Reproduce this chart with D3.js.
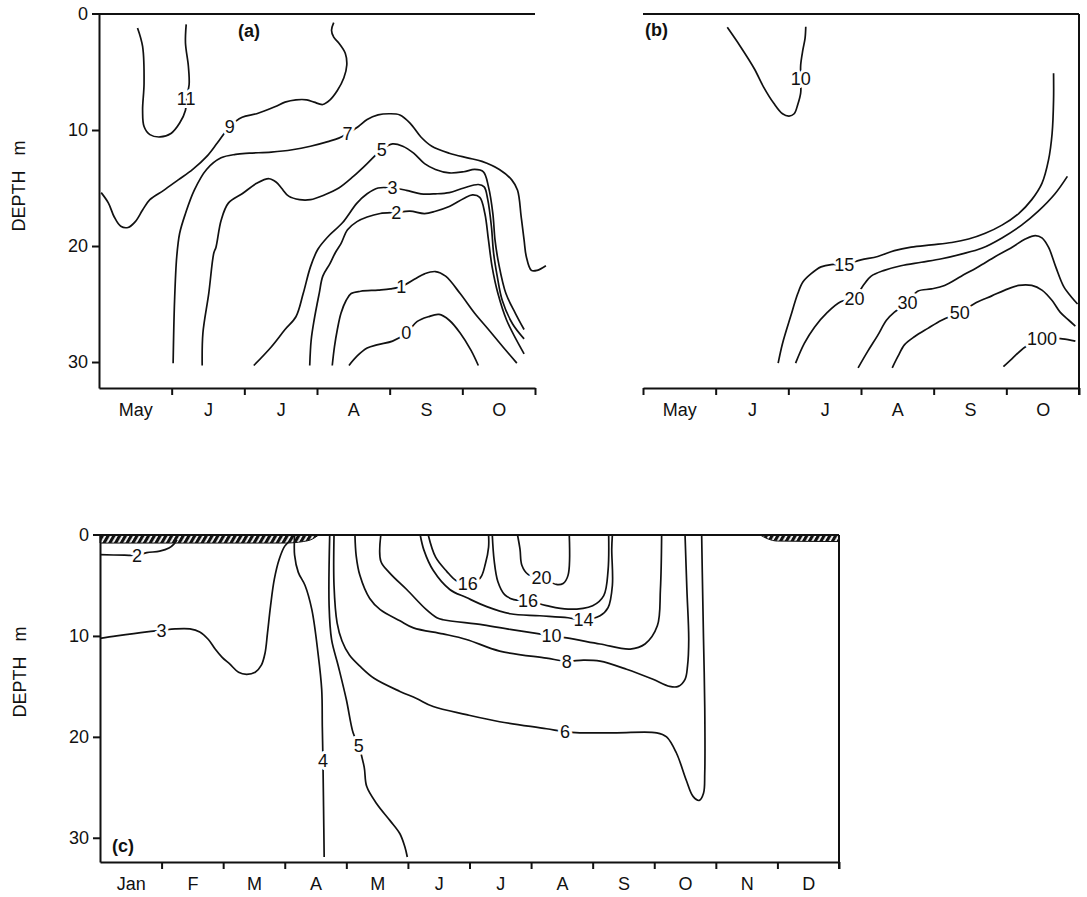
<!DOCTYPE html>
<html>
<head>
<meta charset="utf-8">
<script src="https://cdn.jsdelivr.net/npm/d3@7"></script>
<style>
  body { margin: 0; background: #fff; }
  text { font-family: "Liberation Sans", Arial, Helvetica, sans-serif; font-size: 18px; fill: #111; }
  .axis path, .axis line, .frame { stroke: #111; stroke-width: 2; fill: none; }
  .axis text { font-size: 18px; }
  .contour { fill: none; stroke: #111; stroke-width: 1.7; }
  .clabel { paint-order: stroke; stroke: #fff; stroke-width: 6px; stroke-linejoin: round; }
  .plabel { font-weight: bold; }
</style>
</head>
<body>
<svg id="chart" width="1087" height="897"></svg>
<script>
const monthsAB = ['May', 'J', 'J', 'A', 'S', 'O'];
const monthsC = ['Jan', 'F', 'M', 'A', 'M', 'J', 'J', 'A', 'S', 'O', 'N', 'D'];
const depthTicks = [0, 10, 20, 30];

// points are [months from left edge, depth m]; "at" is where the label sits on the line
const contoursA = [
  { v: '11', at: [1.20, 7.3], pts: [[0.53, 1.2], [0.60, 2.8], [0.62, 6.0], [0.60, 8.3], [0.62, 9.7], [0.70, 10.4], [0.84, 10.6], [0.99, 10.3], [1.11, 9.4], [1.19, 8.3], [1.20, 7.3], [1.24, 6.1], [1.23, 4.5], [1.19, 2.5], [1.20, 0.9]] },
  { v: '9', at: [1.80, 9.7], pts: [[0.03, 15.4], [0.13, 16.3], [0.21, 17.5], [0.30, 18.3], [0.40, 18.4], [0.50, 17.9], [0.60, 16.9], [0.70, 16.0], [0.89, 15.2], [1.09, 14.3], [1.29, 13.4], [1.48, 12.3], [1.63, 11.1], [1.80, 9.7], [1.97, 8.9], [2.17, 8.6], [2.42, 8.0], [2.56, 7.6], [2.71, 7.4], [2.86, 7.4], [2.96, 7.6], [3.08, 7.8], [3.18, 7.4], [3.28, 6.6], [3.37, 5.5], [3.41, 4.4], [3.39, 3.4], [3.30, 2.5], [3.23, 2.0], [3.20, 1.4], [3.23, 0.75]] },
  { v: '7', at: [3.42, 10.3], pts: [[1.02, 30.1], [1.04, 24.7], [1.07, 20.9], [1.11, 18.9], [1.19, 17.2], [1.31, 15.2], [1.48, 13.4], [1.68, 12.4], [1.88, 12.1], [2.07, 12.0], [2.37, 11.9], [2.66, 11.7], [2.91, 11.4], [3.15, 11.0], [3.30, 10.7], [3.42, 10.3], [3.57, 9.7], [3.69, 9.1], [3.84, 8.7], [3.99, 8.6], [4.14, 8.7], [4.28, 9.4], [4.43, 10.6], [4.58, 11.4], [4.82, 12.0], [5.07, 12.4], [5.27, 12.7], [5.51, 13.4], [5.68, 14.3], [5.76, 15.2], [5.81, 17.5], [5.85, 19.5], [5.88, 20.9], [5.95, 22.1], [6.03, 22.1], [6.15, 21.7]] },
  { v: '5', at: [3.89, 11.7], pts: [[1.42, 30.3], [1.43, 27.5], [1.51, 24.1], [1.58, 20.6], [1.61, 20.1], [1.68, 17.8], [1.78, 16.3], [1.97, 15.5], [2.17, 14.6], [2.34, 14.2], [2.44, 14.5], [2.51, 15.0], [2.61, 15.7], [2.76, 16.0], [2.91, 16.0], [3.10, 15.6], [3.30, 15.0], [3.50, 14.0], [3.69, 12.9], [3.89, 11.7], [4.04, 11.2], [4.18, 11.4], [4.33, 12.0], [4.48, 12.9], [4.63, 13.4], [4.82, 13.7], [5.02, 13.6], [5.17, 13.4], [5.29, 13.6], [5.36, 14.9], [5.42, 17.2], [5.45, 19.5], [5.50, 21.5], [5.60, 24.1], [5.73, 25.8], [5.85, 27.2]] },
  { v: '3', at: [4.04, 15.0], pts: [[2.13, 30.3], [2.37, 28.7], [2.56, 27.2], [2.71, 26.1], [2.81, 24.1], [2.91, 21.8], [3.01, 20.3], [3.15, 19.2], [3.35, 18.0], [3.55, 16.3], [3.69, 15.5], [3.84, 15.0], [4.04, 15.0], [4.23, 15.2], [4.43, 15.5], [4.63, 15.5], [4.82, 15.4], [5.02, 15.0], [5.22, 14.7], [5.30, 14.9], [5.35, 16.0], [5.40, 18.3], [5.43, 20.6], [5.48, 22.6], [5.55, 24.7], [5.69, 26.7], [5.85, 28.0]] },
  { v: '2', at: [4.09, 17.1], pts: [[2.90, 30.3], [2.92, 28.1], [2.96, 26.4], [3.03, 24.1], [3.08, 22.6], [3.18, 21.5], [3.25, 20.6], [3.33, 19.8], [3.42, 18.6], [3.55, 17.9], [3.69, 17.5], [3.87, 17.2], [4.09, 17.1], [4.28, 17.0], [4.48, 17.2], [4.63, 17.0], [4.82, 16.6], [5.02, 15.9], [5.14, 15.6], [5.24, 15.8], [5.31, 17.2], [5.36, 19.5], [5.41, 21.8], [5.49, 24.1], [5.61, 26.4], [5.85, 29.3]] },
  { v: '1', at: [4.16, 23.5], pts: [[3.21, 30.3], [3.24, 28.7], [3.28, 27.2], [3.33, 25.8], [3.40, 24.7], [3.47, 24.1], [3.60, 23.9], [3.84, 23.8], [4.01, 23.7], [4.16, 23.5], [4.36, 22.8], [4.48, 22.4], [4.63, 22.2], [4.77, 22.6], [4.97, 24.1], [5.17, 25.8], [5.36, 27.2], [5.56, 28.7], [5.75, 30.1]] },
  { v: '0', at: [4.23, 27.5], pts: [[3.44, 30.3], [3.55, 29.5], [3.69, 28.8], [3.84, 28.5], [4.04, 28.2], [4.23, 27.5], [4.38, 26.5], [4.53, 26.1], [4.68, 25.9], [4.82, 26.4], [4.97, 27.5], [5.12, 29.0], [5.22, 30.3]] }
];

const contoursB = [
  { v: '10', at: [2.17, 5.6], pts: [[1.16, 1.15], [1.34, 2.8], [1.53, 4.7], [1.66, 6.3], [1.80, 7.7], [1.92, 8.6], [2.01, 8.8], [2.08, 8.6], [2.13, 7.8], [2.17, 6.8], [2.17, 5.6], [2.17, 4.4], [2.20, 3.1], [2.23, 2.1], [2.24, 1.1]] },
  { v: '15', at: [2.77, 21.6], pts: [[1.86, 30.1], [1.92, 28.4], [2.03, 26.1], [2.13, 24.1], [2.20, 23.1], [2.31, 22.4], [2.45, 21.8], [2.59, 21.6], [2.77, 21.6], [3.00, 21.2], [3.23, 20.9], [3.46, 20.4], [3.69, 20.1], [3.97, 19.9], [4.25, 19.7], [4.48, 19.4], [4.71, 18.9], [4.94, 18.2], [5.17, 17.2], [5.35, 16.0], [5.49, 14.6], [5.58, 12.6], [5.63, 10.3], [5.65, 7.4], [5.65, 5.1]] },
  { v: '20', at: [2.91, 24.5], pts: [[2.10, 30.1], [2.22, 28.4], [2.36, 27.0], [2.54, 25.7], [2.72, 24.8], [2.91, 24.5], [3.03, 23.4], [3.14, 22.6], [3.32, 22.1], [3.55, 21.7], [3.83, 21.4], [4.11, 21.1], [4.38, 20.7], [4.66, 20.2], [4.94, 19.3], [5.21, 18.2], [5.44, 17.0], [5.67, 15.5], [5.84, 14.0]] },
  { v: '30', at: [3.64, 24.9], pts: [[2.96, 30.5], [3.09, 29.1], [3.23, 27.7], [3.35, 26.4], [3.46, 25.7], [3.64, 24.9], [3.78, 23.9], [3.97, 23.7], [4.15, 23.4], [4.38, 22.6], [4.61, 21.8], [4.85, 20.9], [5.08, 20.1], [5.26, 19.4], [5.40, 19.1], [5.49, 19.3], [5.58, 20.1], [5.68, 21.8], [5.79, 23.5], [5.91, 24.5], [5.98, 25.0]] },
  { v: '50', at: [4.36, 25.7], pts: [[3.43, 30.5], [3.51, 29.5], [3.60, 28.5], [3.74, 27.8], [3.92, 27.1], [4.11, 26.4], [4.36, 25.7], [4.61, 24.8], [4.80, 24.3], [4.98, 23.8], [5.17, 23.4], [5.35, 23.4], [5.49, 23.8], [5.63, 24.7], [5.74, 25.7], [5.86, 26.4], [5.95, 26.9]] },
  { v: '100', at: [5.49, 28.0], pts: [[4.96, 30.4], [5.08, 29.7], [5.26, 28.7], [5.49, 28.0], [5.77, 28.0], [5.95, 28.2]] }
];

const contoursC = [
  { v: '2', at: [0.6, 2.0], pts: [[0, 1.95], [0.4, 2.0], [0.6, 2.0], [0.76, 1.75], [0.97, 1.6], [1.12, 1.3], [1.2, 0.9], [1.25, 0.5]] },
  { v: '3', at: [1.0, 9.45], pts: [[0, 10.25], [0.27, 10.0], [0.76, 9.6], [1.0, 9.45], [1.22, 9.3], [1.46, 9.3], [1.62, 9.6], [1.76, 10.35], [1.87, 11.3], [1.98, 12.1], [2.11, 12.8], [2.25, 13.6], [2.38, 13.8], [2.52, 13.6], [2.62, 12.9], [2.68, 11.7], [2.72, 9.7], [2.77, 7.0], [2.83, 4.4], [2.91, 2.4], [3.0, 1.1], [3.08, 0.6]] },
  { v: '4', at: [3.62, 22.3], pts: [[3.16, 0], [3.16, 2.0], [3.22, 3.7], [3.33, 5.0], [3.44, 7.4], [3.54, 11.7], [3.60, 15.3], [3.61, 19.0], [3.62, 22.3], [3.63, 26.9], [3.64, 31.9]] },
  { v: '5', at: [4.2, 20.9], pts: [[3.73, 0], [3.72, 7.0], [3.76, 10.35], [3.87, 13.0], [4.0, 16.3], [4.11, 19.6], [4.2, 20.9], [4.29, 23.0], [4.33, 24.9], [4.49, 26.6], [4.71, 28.3], [4.87, 29.6], [4.95, 30.9], [4.99, 31.9]] },
  { v: '6', at: [7.55, 19.5], pts: [[3.80, 0], [3.80, 5.0], [3.85, 8.7], [3.93, 10.5], [4.05, 11.9], [4.22, 13.0], [4.45, 14.2], [4.87, 15.5], [5.14, 16.2], [5.41, 17.0], [5.95, 17.8], [6.49, 18.5], [7.25, 19.2], [7.55, 19.5], [7.79, 19.6], [8.39, 19.6], [9.04, 19.6], [9.20, 20.0], [9.36, 21.6], [9.52, 24.3], [9.63, 25.9], [9.73, 26.3], [9.80, 25.6], [9.82, 23.6], [9.82, 17.0], [9.80, 10.3], [9.78, 3.7], [9.77, 0]] },
  { v: '8', at: [7.58, 12.5], pts: [[4.14, 0], [4.16, 2.06], [4.22, 4.0], [4.38, 6.3], [4.55, 7.4], [4.87, 8.5], [5.09, 9.2], [5.57, 9.8], [5.95, 10.35], [6.49, 11.5], [7.25, 12.2], [7.58, 12.5], [7.85, 12.4], [8.12, 12.5], [8.55, 13.3], [8.98, 14.3], [9.25, 15.0], [9.39, 15.0], [9.50, 14.3], [9.54, 13.0], [9.56, 10.35], [9.53, 5.4], [9.50, 0]] },
  { v: '10', at: [7.33, 10.0], pts: [[4.56, 0], [4.56, 2.6], [4.71, 3.8], [4.98, 5.4], [5.30, 7.4], [5.47, 8.2], [5.57, 8.4], [6.22, 8.9], [6.66, 9.35], [7.03, 9.7], [7.33, 10.0], [7.58, 10.2], [8.12, 10.8], [8.61, 11.3], [8.85, 10.8], [9.05, 9.0], [9.10, 5.4], [9.12, 0]] },
  { v: '14', at: [7.85, 8.4], pts: [[5.20, 0], [5.26, 1.5], [5.41, 3.5], [5.68, 5.4], [5.95, 6.2], [6.28, 7.1], [6.66, 7.8], [7.14, 8.0], [7.6, 8.2], [7.85, 8.4], [8.12, 8.0], [8.25, 7.2], [8.32, 5.0], [8.31, 1.4], [8.32, 0]] },
  { v: '16', at: [5.97, 4.8], pts: [[5.33, 0], [5.45, 2.2], [5.63, 3.6], [5.78, 4.5], [5.97, 4.8], [6.17, 4.3], [6.26, 2.8], [6.31, 1.2], [6.31, 0]] },
  { v: '16', at: [6.95, 6.5], pts: [[6.37, 0], [6.40, 2.5], [6.46, 4.6], [6.57, 5.9], [6.72, 6.4], [6.95, 6.5], [7.25, 7.0], [7.6, 7.35], [8.0, 7.0], [8.18, 6.0], [8.25, 3.5], [8.26, 0]] },
  { v: '20', at: [7.17, 4.2], pts: [[6.78, 0], [6.82, 1.4], [6.85, 3.0], [6.95, 3.9], [7.17, 4.2], [7.41, 4.9], [7.52, 4.8], [7.60, 4.0], [7.62, 0]] }
];

// ice cover thickness (m) along the winter months
const iceLeft = [[0, 0.8], [3.0, 0.8], [3.3, 0.65], [3.45, 0.4], [3.55, 0]];
const iceRight = [[10.72, 0], [10.85, 0.4], [11.0, 0.6], [12, 0.65]];

const svg = d3.select('#chart');

const defs = svg.append('defs');
defs.append('pattern')
  .attr('id', 'hatch')
  .attr('patternUnits', 'userSpaceOnUse')
  .attr('width', 5)
  .attr('height', 10)
  .attr('patternTransform', 'rotate(30)')
  .append('rect')
  .attr('width', 3.2)
  .attr('height', 10)
  .attr('fill', '#111');

function drawPanel(o) {
  const g = svg.append('g');
  const n = o.months.length;
  const x = d3.scaleLinear().domain([0, n]).range(o.xr);
  const y = d3.scaleLinear().domain([0, o.dMax]).range(o.yr);

  // ice
  if (o.ice) {
    const area = d3.area()
      .x(d => x(d[0]))
      .y0(y(0))
      .y1(d => y(d[1]))
      .curve(d3.curveMonotoneX);
    o.ice.forEach(ice => {
      g.append('path')
        .attr('d', area(ice))
        .attr('fill', 'url(#hatch)')
        .attr('stroke', '#111')
        .attr('stroke-width', 1);
    });
  }

  // bottom axis with month ticks
  g.append('g')
    .attr('class', 'axis')
    .attr('transform', `translate(0,${y(o.dMax)})`)
    .call(d3.axisBottom(x).tickValues(d3.range(o.tick0, n + 1)).tickSize(7).tickSizeOuter(0).tickFormat(''));

  // month labels centred in each month
  const lab = g.append('g')
    .attr('class', 'axis')
    .attr('transform', `translate(0,${y(o.dMax)})`)
    .call(d3.axisBottom(x).tickValues(d3.range(n).map(i => i + 0.5)).tickSize(0).tickPadding(15)
      .tickFormat((d, i) => o.months[i]));
  lab.select('.domain').remove();

  // surface line
  g.append('line')
    .attr('class', 'frame')
    .attr('x1', o.leftAxis ? x(0) - 7 : x(0))
    .attr('x2', x(n))
    .attr('y1', y(0))
    .attr('y2', y(0));

  if (o.leftAxis) {
    const ya = g.append('g')
      .attr('class', 'axis')
      .attr('transform', `translate(${x(0)},0)`)
      .call(d3.axisLeft(y).tickValues(depthTicks).tickSize(7).tickPadding(4).tickSizeOuter(0));
    ya.selectAll('.tick').filter(d => d === 0).select('line').remove();

    g.append('text')
      .attr('transform', `translate(${x(0) - 80},${o.depthY}) rotate(-90)`)
      .attr('text-anchor', 'middle')
      .attr('dy', '0.35em')
      .text('DEPTH\u00a0\u00a0\u00a0m');
  }

  if (o.rightBorder) {
    g.append('line')
      .attr('class', 'frame')
      .attr('x1', x(n))
      .attr('x2', x(n))
      .attr('y1', y(0))
      .attr('y2', y(o.dMax) + 7);
  }

  const line = d3.line()
    .x(d => x(d[0]))
    .y(d => y(d[1]))
    .curve(d3.curveCatmullRom.alpha(0.5));

  g.selectAll('path.contour')
    .data(o.contours)
    .enter()
    .append('path')
    .attr('class', 'contour')
    .attr('d', d => line(d.pts));

  g.selectAll('text.clabel')
    .data(o.contours)
    .enter()
    .append('text')
    .attr('class', 'clabel')
    .attr('x', d => x(d.at[0]))
    .attr('y', d => y(d.at[1]))
    .attr('dy', '0.36em')
    .attr('text-anchor', 'middle')
    .text(d => d.v);

  g.append('text')
    .attr('class', 'plabel')
    .attr('x', x(0) + o.tag[0])
    .attr('y', y(0) + o.tag[1])
    .text(o.tag[2]);
}

drawPanel({ months: monthsAB, xr: [99, 535], yr: [14, 388], dMax: 32.24, tick0: 1, depthY: 186,
  leftAxis: true, rightBorder: false, contours: contoursA, tag: [139, 23, '(a)'] });

drawPanel({ months: monthsAB, xr: [643, 1079], yr: [14, 388], dMax: 32.24, tick0: 0,
  leftAxis: false, rightBorder: true, contours: contoursB, tag: [2, 22, '(b)'] });

drawPanel({ months: monthsC, xr: [100, 839], yr: [535, 862], dMax: 32.4, tick0: 1, depthY: 672,
  leftAxis: true, rightBorder: true, contours: contoursC, ice: [iceLeft, iceRight], tag: [12, 317, '(c)'] });
</script>
</body>
</html>
